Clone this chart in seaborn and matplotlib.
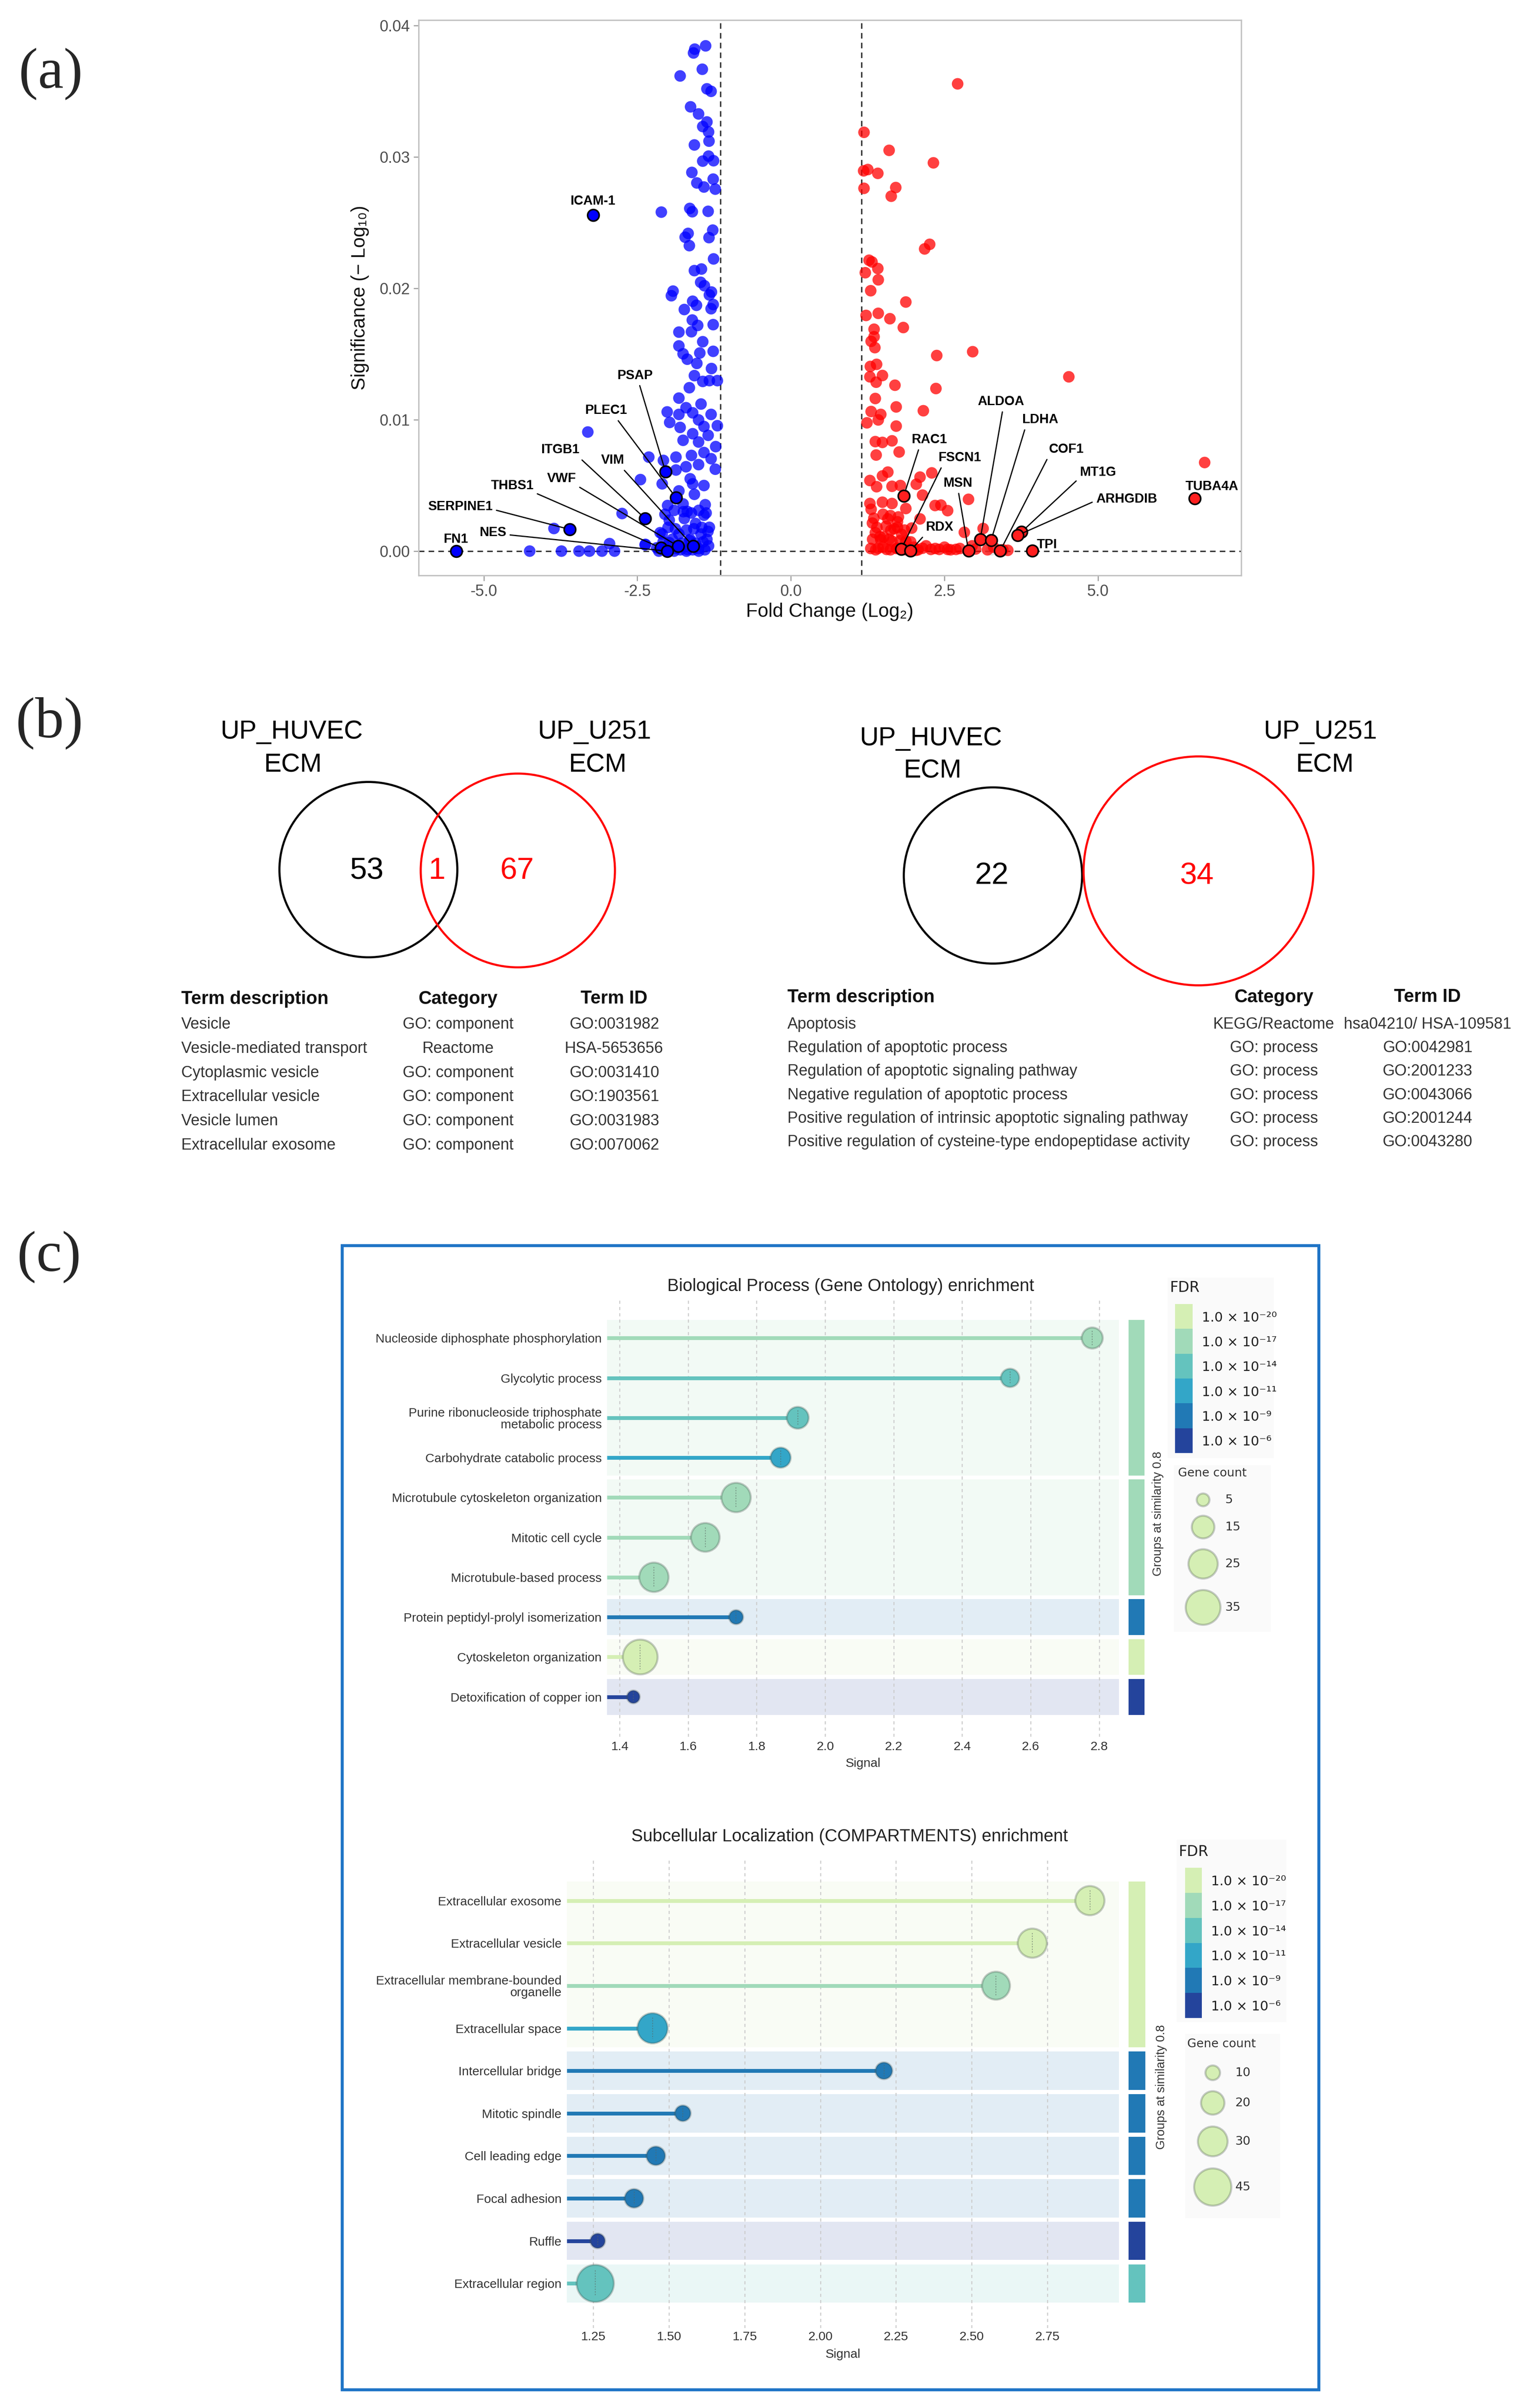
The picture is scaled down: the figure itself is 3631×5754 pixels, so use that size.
import numpy as np
import pandas as pd
import matplotlib
matplotlib.use("Agg")
import matplotlib.pyplot as plt
import seaborn as sns
from matplotlib.patches import Ellipse, Rectangle
from matplotlib.colors import ListedColormap

# ======================= DATA =======================
# ---- (a) volcano plot: down-regulated (blue) ----
down_fc = [
    -1.388, -1.565, -1.585, -1.442, -1.803, -1.367, -1.299, -1.633, -1.503, -1.367,
    -1.435, -1.340, -1.333, -1.571, -1.340, -1.435, -1.259, -1.612, -1.531, -1.415,
    -1.265, -1.231, -2.109, -1.646, -1.605, -1.347, -1.272, -1.673, -1.721, -1.333,
    -1.653, -1.259, -1.571, -1.456, -1.469, -1.408, -1.918, -1.293,
    -1.946, -1.327, -1.599, -1.537, -1.265, -1.735, -1.299, -1.605, -1.517, -1.265,
    -1.823, -1.619, -1.435, -1.823, -1.265, -1.755, -1.687, -1.483, -1.531, -1.293,
    -1.571, -1.435, -1.327, -1.197, -1.653, -1.823, -1.707, -1.463, -2.014, -1.823,
    -1.599, -1.299, -1.503, -1.973, -1.803, -1.415, -1.197, -1.599, -1.755, -1.347,
    -1.224, -1.503, -2.313, -2.075, -1.871, -1.619, -1.415, -1.299, -1.871, -1.707,
    -1.503, -1.231, -2.449, -2.095, -1.639, -1.415, -1.823, -1.571, -2.007, -1.755,
    -1.415, -1.980, -1.735, -1.551, -2.095, -1.823, -1.463, -2.367, -2.184, -1.871,
    -1.687, -1.503, -1.367, -1.980, -1.639, -1.327, -1.395, -1.687, -1.599,
    -3.306, -2.748, -3.857, -2.374, -4.252, -3.735, -3.449, -3.279, -3.075, -2.871,
    -2.952, -2.129,
    -2.05, -1.9, -1.75, -1.62, -1.5, -1.38, -2.0, -1.88, -1.7, -1.58, -1.45, -1.35,
    -2.08, -1.93, -1.78, -1.65, -1.55, -1.43, -1.34, -2.15, -2.0, -1.9, -1.8, -1.7,
    -1.6, -1.5, -1.4,
]
down_sig = [
    0.03844, 0.03819, 0.0379, 0.03666, 0.03615, 0.03517, 0.03498, 0.0338, 0.03326, 0.03265,
    0.0323, 0.03189, 0.03119, 0.0309, 0.03005, 0.02967, 0.0297, 0.02881, 0.02801, 0.0277,
    0.0283, 0.02754, 0.02579, 0.02607, 0.02582, 0.02585, 0.02442, 0.02417, 0.02388, 0.02385,
    0.02324, 0.02223, 0.02134, 0.02146, 0.02045, 0.02019, 0.01978, 0.01971,
    0.01943, 0.01949, 0.01901, 0.0187, 0.01876, 0.01838, 0.01844, 0.01758, 0.01717, 0.01723,
    0.01666, 0.01669, 0.01593, 0.01561, 0.0152, 0.01501, 0.0146, 0.01507, 0.01428, 0.01389,
    0.01335, 0.01291, 0.01297, 0.01297, 0.01243, 0.01164, 0.01091, 0.01119, 0.01059, 0.0104,
    0.01052, 0.0104, 0.00998, 0.00979, 0.00941, 0.00948, 0.00954, 0.00893, 0.00843, 0.00881,
    0.00795, 0.0083, 0.00715, 0.0069, 0.00715, 0.00728, 0.0075, 0.00703, 0.00617, 0.00642,
    0.00658, 0.00623, 0.00544, 0.00512, 0.0055, 0.00499, 0.00458, 0.00432, 0.00347, 0.00359,
    0.00273, 0.00235, 0.00248, 0.0021, 0.0013, 0.0013, 0.0013, 0.00051, 0.00025, 0.00019,
    0.00013, 0.00019, 0.00089, 0.00064, 0.00089, 0.00181, 0.00353, 0.00302, 0.00512,
    0.00906, 0.00286, 0.00172, 0.00048, 0.0, 0.0, 0.0, 0.0, 0.0, 0.0,
    0.00057, 0.0014,
    0.0028, 0.0031, 0.003, 0.0029, 0.0031, 0.0029, 0.0018, 0.0017, 0.0016, 0.0017, 0.0018, 0.0015,
    0.0007, 0.0009, 0.0006, 0.0008, 0.0006, 0.0007, 0.0004, 0.0, 0.0001, 0.0, 0.0001, 0.0,
    0.0001, 0.0, 0.0001,
]
# ---- up-regulated (red) ----
up_fc = [
    2.714, 1.190, 1.599, 2.320, 1.184, 1.252, 1.415, 1.190, 1.707, 1.633,
    2.259, 2.177, 1.272, 1.320, 1.415, 1.211, 1.422, 1.299, 1.871, 1.224,
    1.422, 1.612, 1.830, 1.354, 1.354, 1.306, 1.367, 2.959, 2.374,
    1.293, 1.395, 1.286, 1.490, 1.388, 1.694, 2.361, 1.374, 1.714, 2.156,
    1.306, 1.463, 1.238, 1.422, 1.714, 1.374, 1.490, 1.646, 1.762, 1.388,
    1.578, 1.490, 1.286, 1.395, 1.646, 1.782, 2.293, 2.102, 2.041, 2.143,
    2.891, 1.286, 1.490, 1.646, 1.306, 1.871, 2.347, 2.442, 2.551, 2.102,
    1.327, 1.578, 1.735, 1.966, 1.374, 1.626, 1.803, 2.823, 3.129, 1.463,
    1.646, 1.422, 1.558, 2.143, 2.279, 2.415, 2.551, 2.687, 3.007, 3.531,
    2.034, 1.735, 1.510, 1.735, 1.871,
    6.735, 4.524,
    1.35, 1.5, 1.62, 1.75, 1.4, 1.55, 1.68, 1.85, 1.33, 1.45, 1.6, 1.78, 1.95, 1.3, 1.38,
    1.5, 1.62, 1.72, 1.88, 2.0, 2.07, 2.2, 2.35, 2.5, 2.6, 2.75, 2.95, 3.2, 3.3, 3.45,
]
up_sig = [
    0.03555, 0.03186, 0.03049, 0.02954, 0.02893, 0.02903, 0.02874, 0.0276, 0.02766, 0.027,
    0.02334, 0.02299, 0.02213, 0.022, 0.0215, 0.02118, 0.02064, 0.01981, 0.01895, 0.01793,
    0.01809, 0.01768, 0.01701, 0.01688, 0.01631, 0.01596, 0.01548, 0.01517, 0.01488,
    0.01405, 0.01421, 0.01326, 0.01336, 0.01285, 0.01262, 0.01237, 0.01161, 0.01097, 0.01068,
    0.01062, 0.0104, 0.00976, 0.00998, 0.00951, 0.00833, 0.00827, 0.00839, 0.00754, 0.00731,
    0.00601, 0.00572, 0.00537, 0.0049, 0.00493, 0.00499, 0.00595, 0.00563, 0.00509, 0.00426,
    0.00394, 0.00362, 0.00372, 0.00362, 0.00318, 0.00324, 0.00347, 0.0035, 0.00308, 0.00245,
    0.00213, 0.00245, 0.00223, 0.00175, 0.0014, 0.00159, 0.00127, 0.00143, 0.00172, 0.00086,
    0.00076, 0.00022, 0.00013, 0.00022, 0.00013, 0.00013, 0.00013, 0.00013, 0.00016, 0.00006,
    0.00006, 0.00022, 0.00108, 0.00181, 0.00076,
    0.00674, 0.01326,
    0.0025, 0.0028, 0.0027, 0.0026, 0.0018, 0.0019, 0.0017, 0.0016, 0.0009, 0.0011, 0.0009,
    0.0008, 0.0007, 0.0002, 0.0001, 0.0003, 0.0001, 0.0002, 0.0001, 0.0003, 0.0001, 0.0004,
    0.0002, 0.0003, 0.0001, 0.0002, 0.0004, 0.0001, 0.0003, 0.0001,
]
ns_fc = [3.26]
ns_sig = [0.0001]
fc_threshold = 1.15
fc_ticks = [-5.0, -2.5, 0.0, 2.5, 5.0]
sig_ticks = [0.00, 0.01, 0.02, 0.03, 0.04]

down_label_genes = ["ICAM-1", "PSAP", "PLEC1", "ITGB1", "VIM", "VWF", "THBS1", "SERPINE1", "NES", "FN1"]
down_label_fc = [-3.218, -2.041, -1.871, -2.374, -1.592, -1.837, -2.116, -3.599, -2.014, -5.449]
down_label_sig = [0.02556, 0.00604, 0.00407, 0.00248, 0.00038, 0.00038, 0.00025, 0.00165, 0.0, 0.0]
up_label_genes = ["ALDOA", "LDHA", "RAC1", "COF1", "FSCN1", "MT1G", "MSN", "TUBA4A", "ARHGDIB", "RDX", "TPI"]
up_label_fc = [3.082, 3.259, 1.837, 3.408, 1.796, 3.755, 2.891, 6.571, 3.694, 1.946, 3.932]
up_label_sig = [0.00089, 0.00083, 0.0042, 0.00003, 0.00016, 0.00146, 0.00003, 0.004, 0.00121, 0.00003, 0.00003]

# ---- (b) Venn diagrams and enrichment tables ----
venn_sets = ["UP_HUVEC\nECM", "UP_U251\nECM"]
venn_left_counts = [53, 1, 67]
venn_right_counts = [22, 34]
table_header = ["Term description", "Category", "Term ID"]
ecm_terms = ["Vesicle", "Vesicle-mediated transport", "Cytoplasmic vesicle",
             "Extracellular vesicle", "Vesicle lumen", "Extracellular exosome"]
ecm_categories = ["GO: component", "Reactome", "GO: component", "GO: component",
                  "GO: component", "GO: component"]
ecm_ids = ["GO:0031982", "HSA-5653656", "GO:0031410", "GO:1903561", "GO:0031983", "GO:0070062"]
apo_terms = ["Apoptosis", "Regulation of apoptotic process",
             "Regulation of apoptotic signaling pathway",
             "Negative regulation of apoptotic process",
             "Positive regulation of intrinsic apoptotic signaling pathway",
             "Positive regulation of cysteine-type endopeptidase activity"]
apo_categories = ["KEGG/Reactome", "GO: process", "GO: process", "GO: process",
                  "GO: process", "GO: process"]
apo_ids = ["hsa04210/ HSA-109581", "GO:0042981", "GO:2001233", "GO:0043066",
           "GO:2001244", "GO:0043280"]

# ---- (c) enrichment lollipops ----
fdr_levels = [-20, -17, -14, -11, -9, -6]
fdr_labels = ["1.0 × 10⁻²⁰", "1.0 × 10⁻¹⁷", "1.0 × 10⁻¹⁴", "1.0 × 10⁻¹¹", "1.0 × 10⁻⁹", "1.0 × 10⁻⁶"]

bp_terms = ["Nucleoside diphosphate phosphorylation", "Glycolytic process",
            "Purine ribonucleoside triphosphate\nmetabolic process",
            "Carbohydrate catabolic process", "Microtubule cytoskeleton organization",
            "Mitotic cell cycle", "Microtubule-based process",
            "Protein peptidyl-prolyl isomerization", "Cytoskeleton organization",
            "Detoxification of copper ion"]
bp_signal = [2.78, 2.54, 1.92, 1.87, 1.74, 1.65, 1.50, 1.74, 1.46, 1.44]
bp_fdr_exp = [-17, -14, -14, -11, -17, -17, -17, -9, -20, -6]
bp_count = [13, 10, 14, 12, 25, 24, 25, 6, 36, 5]
bp_group = [1, 1, 1, 1, 2, 2, 2, 3, 4, 5]
bp_legend_counts = [5, 15, 25, 35]

cc_terms = ["Extracellular exosome", "Extracellular vesicle",
            "Extracellular membrane-bounded\norganelle", "Extracellular space",
            "Intercellular bridge", "Mitotic spindle", "Cell leading edge",
            "Focal adhesion", "Ruffle", "Extracellular region"]
cc_signal = [2.89, 2.70, 2.58, 1.446, 2.21, 1.546, 1.457, 1.385, 1.265, 1.257]
cc_fdr_exp = [-20, -20, -17, -11, -9, -9, -9, -9, -6, -14]
cc_count = [29, 29, 27, 31, 12, 11, 14, 14, 9, 45]
cc_group = [1, 1, 1, 1, 2, 3, 4, 5, 6, 7]
cc_legend_counts = [10, 20, 30, 45]

# ======================= STYLE =======================
sns.set_style("white")
plt.rcParams["font.family"] = ["Liberation Sans", "DejaVu Sans"]
plt.rcParams["axes.unicode_minus"] = False
SERIF = ["Liberation Serif", "DejaVu Serif"]
WIDE = ["DejaVu Sans", "Liberation Sans"]

fdr_colors = ["#d5efb4", "#a1dab9", "#64c3be", "#33a6c8", "#2179b5", "#24449c"]
fdr_color = dict(zip(fdr_levels, fdr_colors))
fdr_palette = {str(k): v for k, v in fdr_color.items()}

W, H, DPI = 3631, 5754, 300
fig = plt.figure(figsize=(W / DPI, H / DPI), dpi=DPI, facecolor="white")


def box(x0, y0, x1, y1):
    return [x0 / W, 1 - y1 / H, (x1 - x0) / W, (y1 - y0) / H]


ov = fig.add_axes([0, 0, 1, 1])
ov.set_xlim(0, W)
ov.set_ylim(H, 0)
ov.axis("off")

for tag, (tx, ty) in zip(["(a)", "(b)", "(c)"], [(121, 177), (118, 1728), (117, 3004)]):
    ov.text(tx, ty, tag, fontsize=33, family=SERIF, ha="center", va="center")

# ======================= (a) VOLCANO =======================
ax = fig.add_axes(box(1000, 48, 2965, 1375))
ax.set_facecolor("white")
dash = (0, (4, 3))
ax.axvline(-fc_threshold, color="#333333", lw=0.8, ls=dash, zorder=1)
ax.axvline(fc_threshold, color="#333333", lw=0.8, ls=dash, zorder=1)
ax.axhline(0, color="#333333", lw=0.8, ls=dash, zorder=1)
sns.scatterplot(x=ns_fc, y=ns_sig, color="#cfcfcf", alpha=0.6, s=44, edgecolor="none", ax=ax, zorder=2)
sns.scatterplot(x=down_fc, y=down_sig, color="#0000ff", alpha=0.75, s=44, edgecolor="none", ax=ax, zorder=3)
sns.scatterplot(x=up_fc, y=up_sig, color="#ff0000", alpha=0.75, s=44, edgecolor="none", ax=ax, zorder=3)
sns.scatterplot(x=down_label_fc, y=down_label_sig, color="#0000ff", s=44, edgecolor="black",
                linewidth=0.9, ax=ax, zorder=5)
sns.scatterplot(x=up_label_fc, y=up_label_sig, color="#ff1f1f", s=44, edgecolor="black",
                linewidth=0.9, ax=ax, zorder=5)

down_text_xy = [(-3.218, 0.02661), (-2.537, 0.01335), (-3.007, 0.01068), (-3.748, 0.00769),
                (-2.898, 0.0069), (-3.735, 0.0055), (-4.537, 0.00496), (-5.381, 0.00337),
                (-4.850, 0.0014), (-5.449, 0.00089)]
down_relpos = [None, (0.6, 0), (0.72, 0), (0.95, 0), (0.85, 0), (1.0, 0), (1.0, 0),
               (1.0, 0.3), (1.0, 0.35), None]
up_text_xy = [(3.415, 0.01135), (4.061, 0.00998), (2.259, 0.00846), (4.483, 0.00773),
              (2.755, 0.00709), (5.0, 0.00598), (2.721, 0.00515), (6.850, 0.0049),
              (5.463, 0.00394), (2.422, 0.00181), (4.170, 0.00048)]
up_relpos = [(0.55, 0), (0.1, 0), (0.22, 0), (0.0, 0), (0.1, 0), (0.0, 0.1), (0.5, 0), None,
             (0.0, 0.4), (0.0, 0), None]

for genes, gxs, gys, txy, rps in [
    (down_label_genes, down_label_fc, down_label_sig, down_text_xy, down_relpos),
    (up_label_genes, up_label_fc, up_label_sig, up_text_xy, up_relpos),
]:
    for g, gx, gy, (tx, ty), rp in zip(genes, gxs, gys, txy, rps):
        kw = {}
        if rp is not None:
            kw["arrowprops"] = dict(arrowstyle="-", color="black", lw=0.7, shrinkA=0,
                                    shrinkB=3, relpos=rp)
        ax.annotate(g, xy=(gx, gy), xytext=(tx, ty), textcoords="data", ha="center",
                    va="center", fontsize=7.5, fontweight="bold", color="black", zorder=6, **kw)

ax.set_xlim(-6.06, 7.33)
ax.set_ylim(-0.00185, 0.0404)
ax.set_xticks(fc_ticks)
ax.set_xticklabels([f"{v:.1f}" for v in fc_ticks])
ax.set_yticks(sig_ticks)
ax.set_yticklabels([f"{v:.2f}" for v in sig_ticks])
ax.tick_params(axis="both", length=3, width=0.6, color="#999999", labelcolor="#4d4d4d",
               labelsize=9, pad=2, bottom=True, left=True)
for s in ax.spines.values():
    s.set_color("#c2c2c2")
    s.set_linewidth(0.8)
ax.set_xlabel("Fold Change (Log₂)", fontsize=11, color="#111111")
ax.set_ylabel("Significance (− Log₁₀)", fontsize=11, color="#111111")
ax.xaxis.set_label_coords(0.5, -0.0656)
ax.xaxis.label.set_va("center")
ax.yaxis.set_label_coords(-0.0712, 0.5)
ax.yaxis.label.set_va("center")

# ======================= (b) VENN + TABLES =======================
venn_circles = [((880, 2078), 425, 419, "black"), ((1237, 2080), 464, 463, "red"),
                ((2372, 2092), 426, 421, "black"), ((2863, 2081), 549, 547, "red")]
for (c, w, h, col) in venn_circles:
    ov.add_patch(Ellipse(c, w, h, fill=False, ec=col, lw=1.2))

venn_label_pos = [[(696, 1749), (700, 1828)], [(1420, 1749), (1428, 1828)],
                  [(2223, 1764), (2228, 1842)], [(3154, 1749), (3165, 1828)]]
for name, pos in zip(venn_sets * 2, venn_label_pos):
    for line, (lx, ly) in zip(name.split("\n"), pos):
        ov.text(lx, ly, line, fontsize=15, ha="center", va="center", color="black")

for v, x, col in zip(venn_left_counts, [876, 1044, 1235], ["black", "red", "red"]):
    ov.text(x, 2081, str(v), fontsize=17.5, ha="center", va="center", color=col)
for v, x, col in zip(venn_right_counts, [2369, 2859], ["black", "red"]):
    ov.text(x, 2093, str(v), fontsize=17.5, ha="center", va="center", color=col)


def draw_table(terms, cats, ids, x_term, x_cat, x_id, y_head, y0, dy):
    ov.text(x_term, y_head, table_header[0], fontsize=10.5, fontweight="bold", ha="left",
            va="center", color="#111111")
    ov.text(x_cat, y_head, table_header[1], fontsize=10.5, fontweight="bold", ha="center",
            va="center", color="#111111")
    ov.text(x_id, y_head, table_header[2], fontsize=10.5, fontweight="bold", ha="center",
            va="center", color="#111111")
    for i, (t, c, d) in enumerate(zip(terms, cats, ids)):
        y = y0 + i * dy
        ov.text(x_term, y, t, fontsize=9, ha="left", va="center", color="#333333")
        ov.text(x_cat, y, c, fontsize=9, ha="center", va="center", color="#333333")
        ov.text(x_id, y, d, fontsize=9, ha="center", va="center", color="#333333")


draw_table(ecm_terms, ecm_categories, ecm_ids, 433, 1094, 1467, 2387, 2448, 57.8)
draw_table(apo_terms, apo_categories, apo_ids, 1881, 3043, 3410, 2383, 2448, 56.2)

# ======================= (c) ENRICHMENT =======================
ov.add_patch(Rectangle((817, 2976), 3150 - 817, 5710 - 2976, fill=False, ec="#1f74c6", lw=1.7))

EDGE = (0.25, 0.3, 0.28, 0.28)


def enrichment(terms, signal, fdr_exp, counts, groups, legend_counts, cfg):
    ax = fig.add_axes(box(*cfg["axes"]))
    ax.set_facecolor("none")
    n = len(terms)
    rows = np.arange(n)
    fdr_exp = np.asarray(fdr_exp)
    groups = np.asarray(groups)
    cols = [fdr_color[e] for e in fdr_exp]
    gax = fig.add_axes(box(*cfg["bar"]))
    for g in pd.unique(groups):
        idx = rows[groups == g]
        gcol = fdr_color[fdr_exp[idx].min()]
        lo, hi = idx.min() - 0.45, idx.max() + 0.45
        ax.axhspan(lo, hi, color=gcol, alpha=0.13, lw=0, zorder=0)
        gax.axhspan(lo, hi, color=gcol, lw=0)
    gax.set_ylim(cfg["ylim"])
    gax.set_xlim(0, 1)
    gax.axis("off")
    for t in cfg["xticks"]:
        ax.axvline(t, color="#cccccc", lw=0.6, ls=(0, (3, 3)), zorder=0.5)
    ax.hlines(rows, cfg["xlim"][0], signal, colors=cols, lw=2.2, zorder=2)
    df = pd.DataFrame({"signal": signal, "row": rows, "fdr": [str(e) for e in fdr_exp],
                       "count": counts})
    sns.scatterplot(data=df, x="signal", y="row", hue="fdr", palette=fdr_palette, size="count",
                    sizes=cfg["sizes"], size_norm=cfg["size_norm"], edgecolor=EDGE,
                    linewidth=1.2, legend=False, ax=ax, zorder=3)
    lo_s, hi_s = cfg["sizes"]
    lo_c, hi_c = cfg["size_norm"]
    area = lo_s + (np.asarray(counts) - lo_c) / (hi_c - lo_c) * (hi_s - lo_s)
    rad = 0.7 * np.sqrt(area) * DPI / 72 / 2 / cfg["row_px"]
    ax.vlines(signal, rows - rad, rows + rad, colors=[(0.35, 0.4, 0.38, 0.55)], lw=0.5,
              linestyles=[(0, (1.5, 1.5))], zorder=4)
    ax.set_xlim(cfg["xlim"])
    ax.set_ylim(cfg["ylim"])
    ax.set_yticks(rows)
    ax.set_yticklabels(terms)
    ax.set_xticks(cfg["xticks"])
    ax.set_xticklabels(cfg["xticklabels"])
    ax.tick_params(axis="y", length=0, labelsize=7.2, labelcolor="#333333", pad=3)
    ax.tick_params(axis="x", length=0, labelsize=7.3, labelcolor="#333333", pad=cfg["xpad"])
    for t in ax.get_yticklabels():
        t.set_linespacing(1.0)
    for s in ax.spines.values():
        s.set_visible(False)
    ax.grid(False)
    ax.set_ylabel("")
    ax.set_xlabel("Signal", fontsize=7.3, color="#333333")
    ax.xaxis.set_label_coords(0.5, cfg["xlabel_y"])
    ax.xaxis.label.set_va("center")

    ov.text(*cfg["title_xy"], cfg["title"], ha="center", va="center", fontsize=10, color="#222222")
    ov.text(*cfg["sim_xy"], "Groups at similarity 0.8", rotation=90, ha="center", va="center",
            fontsize=7, color="#333333")
    for (x0, y0, x1, y1) in (cfg["fdr_bg"], cfg["gc_bg"]):
        ov.add_patch(Rectangle((x0, y0), x1 - x0, y1 - y0, color="#fafafa", lw=0, zorder=0))
    ov.text(*cfg["fdr_title_xy"], "FDR", ha="left", va="center", fontsize=8.4, color="#222222",
            family=WIDE)
    cax = fig.add_axes(box(*cfg["cbar"]))
    sns.heatmap(np.arange(len(fdr_colors)).reshape(-1, 1), cmap=ListedColormap(fdr_colors),
                cbar=False, ax=cax, xticklabels=False, yticklabels=False)
    cax.set_yticks(np.arange(len(fdr_colors)) + 0.5)
    cax.set_yticklabels(fdr_labels, family=WIDE)
    cax.yaxis.tick_right()
    cax.tick_params(axis="y", length=0, labelsize=7.6, labelcolor="#222222", pad=5.3,
                    labelrotation=0, right=False)
    ov.text(*cfg["gc_title_xy"], "Gene count", ha="center", va="center", fontsize=6.8,
            color="#333333", family=WIDE)
    sns.scatterplot(x=[cfg["gc_x"]] * len(legend_counts), y=cfg["gc_y"], size=legend_counts,
                    sizes=cfg["sizes"], size_norm=cfg["size_norm"], color=fdr_colors[0],
                    edgecolor=EDGE, linewidth=1.2, legend=False, ax=ov, zorder=3)
    for c, y in zip(legend_counts, cfg["gc_y"]):
        ov.text(cfg["gc_lab_x"], y, str(c), ha="left", va="center", fontsize=7, color="#333333",
                family=WIDE)


bp_cfg = dict(
    axes=(1450, 3102, 2673, 4150), bar=(2696, 3102, 2734, 4150), ylim=(10.0, -1.0),
    xlim=(1.363, 2.858), xticks=[1.4, 1.6, 1.8, 2.0, 2.2, 2.4, 2.6, 2.8],
    xticklabels=["1.4", "1.6", "1.8", "2.0", "2.2", "2.4", "2.6", "2.8"], row_px=95.3,
    sizes=(53.3, 397.2), size_norm=(5, 35), xpad=2.5, xlabel_y=-0.061,
    title="Biological Process (Gene Ontology) enrichment", title_xy=(2032, 3074),
    sim_xy=(2766, 3617), fdr_bg=(2789, 3053, 3043, 3484), gc_bg=(2804, 3501, 3036, 3899),
    fdr_title_xy=(2795, 3077), cbar=(2807, 3116, 2849, 3472), gc_title_xy=(2896, 3520),
    gc_x=2874, gc_y=[3584, 3649, 3737, 3841], gc_lab_x=2927,
)
cc_cfg = dict(
    axes=(1354, 4440, 2673, 5563), bar=(2696, 4440, 2736, 5563), ylim=(10.05, -1.0),
    xlim=(1.163, 2.986), xticks=[1.25, 1.5, 1.75, 2.0, 2.25, 2.5, 2.75],
    xticklabels=["1.25", "1.50", "1.75", "2.00", "2.25", "2.50", "2.75"], row_px=101.6,
    sizes=(70.2, 455.2), size_norm=(10, 45), xpad=1.7, xlabel_y=-0.056,
    title="Subcellular Localization (COMPARTMENTS) enrichment", title_xy=(2030, 4389),
    sim_xy=(2774, 4987), fdr_bg=(2811, 4396, 3073, 4832), gc_bg=(2831, 4860, 3058, 5300),
    fdr_title_xy=(2816, 4425), cbar=(2831, 4463, 2871, 4822), gc_title_xy=(2918, 4884),
    gc_x=2897, gc_y=[4953, 5025, 5117, 5226], gc_lab_x=2951,
)

enrichment(bp_terms, bp_signal, bp_fdr_exp, bp_count, bp_group, bp_legend_counts, bp_cfg)
enrichment(cc_terms, cc_signal, cc_fdr_exp, cc_count, cc_group, cc_legend_counts, cc_cfg)

fig.savefig("out.png", dpi=DPI, facecolor="white")
